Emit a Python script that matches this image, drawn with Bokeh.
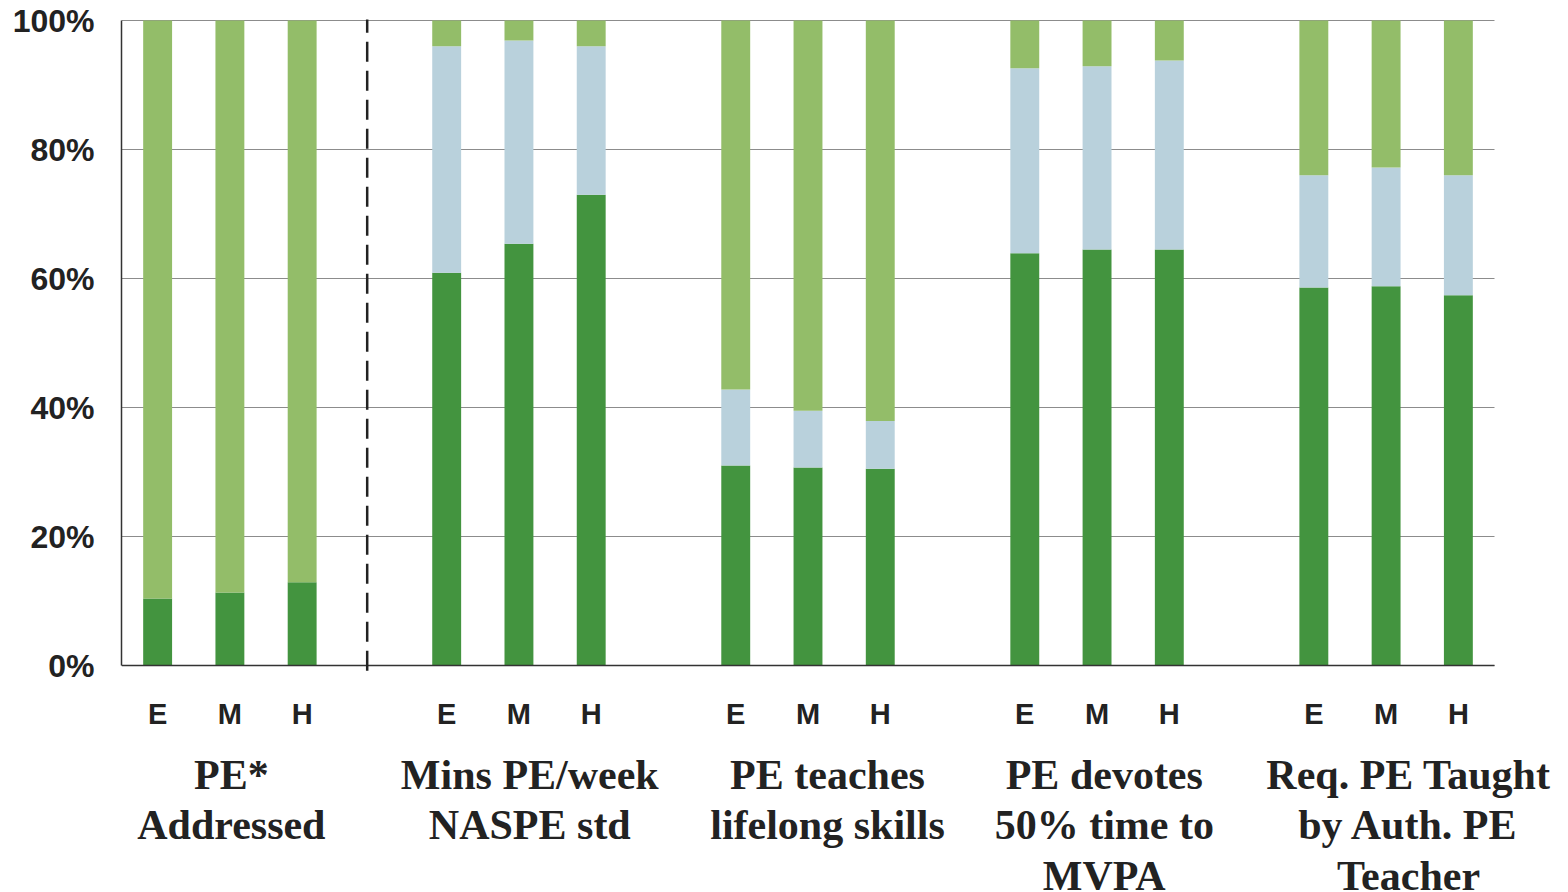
from bokeh.plotting import figure
from bokeh.models import ColumnDataSource, FixedTicker, Range1d
from bokeh.core.properties import value
from bokeh.embed import file_html
from bokeh.resources import INLINE

# ---- data ----
groups = ["PE*\nAddressed", "Mins PE/week\nNASPE std", "PE teaches\nlifelong skills",
          "PE devotes\n50% time to\nMVPA", "Req. PE Taught\nby Auth. PE\nTeacher"]
levels = ["E", "M", "H"]
series = ["Fully", "Partially", "Not"]
fully = [10.4, 11.3, 12.9, 60.9, 65.4, 73.0, 31.0, 30.7, 30.5, 63.9, 64.5, 64.5, 58.6, 58.8, 57.4]
partially = [0.0, 0.0, 0.0, 35.1, 31.5, 23.0, 11.8, 8.8, 7.4, 28.7, 28.4, 29.3, 17.4, 18.4, 18.6]
not_met = [89.6, 88.7, 87.1, 4.0, 3.1, 4.0, 57.2, 60.5, 62.1, 7.4, 7.1, 6.2, 24.0, 22.8, 24.0]
y_ticks = [0, 20, 40, 60, 80, 100]
y_tick_labels = ["0%", "20%", "40%", "60%", "80%", "100%"]

colors = ["#43943f", "#b9d1dc", "#93bd69"]
INK = "#222222"

# ---- layout constants (pixels) ----
W, H = 1560, 890
LEFT, TOP = 121, 19
PLOT_W, PLOT_H = 1373, 645          # width of the 19 category slots, height of 0..100%
N_SLOTS = 19
px_x = PLOT_W / N_SLOTS
px_y = PLOT_H / 100.0
y_end = 100 + 1 / px_y
y_start = y_end - (H - TOP) / px_y
x_end = (W - LEFT) / px_x

xs, labels = [], []
for g in range(len(groups)):
    for i, lv in enumerate(levels):
        xs.append(g * 4 + i + 0.5)
        labels.append(lv)

src = ColumnDataSource(dict(x=xs, Fully=fully, Partially=partially, Not=not_met))

p = figure(width=W, height=H, output_backend="svg", toolbar_location=None,
           x_range=Range1d(0, x_end), y_range=Range1d(y_start, y_end),
           min_border_left=LEFT, min_border_top=TOP, min_border_right=0,
           min_border_bottom=0)
p.outline_line_color = None
p.background_fill_color = "white"
p.border_fill_color = "white"
p.xaxis.visible = False

# grid (limited to the category area)
p.xgrid.visible = False
p.ygrid.ticker = FixedTicker(ticks=y_ticks)
p.ygrid.grid_line_color = "#8c8c8c"
p.ygrid.grid_line_width = 1
p.ygrid.cross_bounds = (0, N_SLOTS)

p.vbar_stack(series, x="x", width=0.4, source=src, color=colors, line_color=None)

# y axis
p.yaxis.bounds = (0, 100)
p.yaxis.ticker = FixedTicker(ticks=y_ticks)
p.yaxis.major_label_overrides = {t: l for t, l in zip(y_ticks, y_tick_labels)}
p.yaxis.major_label_text_font = "Liberation Sans"
p.yaxis.major_label_text_font_style = "bold"
p.yaxis.major_label_text_font_size = "32px"
p.yaxis.major_label_text_color = INK
p.yaxis.major_tick_line_color = None
p.yaxis.minor_tick_line_color = None
p.yaxis.major_tick_out = 0
p.yaxis.major_tick_in = 0
p.yaxis.major_label_standoff = 27
p.yaxis.axis_line_color = "#333333"
p.yaxis.axis_line_width = 1.5

# baseline (x axis line)
p.segment(x0=[0], y0=[0], x1=[N_SLOTS], y1=[0], line_color="#333333", line_width=1.5)

# dashed separator between first group and the rest
p.segment(x0=[3.4], y0=[-0.8], x1=[3.4], y1=[100.5], line_color=INK,
          line_width=2.5, line_dash="20 9")

# E / M / H labels
lsrc = ColumnDataSource(dict(x=xs, y=[0] * len(xs), text=labels))
p.text(x="x", y="y", text="text", source=lsrc, y_offset=48,
       text_font=value("Liberation Sans"), text_font_style="bold",
       text_font_size="29px", text_color=INK, text_align="center",
       text_baseline="middle")

# group labels
shift = [0.02, 0.15, 0.27, 0.10, 0.31]
gsrc = ColumnDataSource(dict(x=[g * 4 + 1.5 + s for g, s in enumerate(shift)],
                             y=[0] * len(groups), text=groups))
p.text(x="x", y="y", text="text", source=gsrc, y_offset=86,
       text_font=value("Liberation Serif"), text_font_style="bold",
       text_font_size="42px", text_color=INK, text_align="center",
       text_baseline="top", text_line_height=1.1)

open("out.html", "w").write(file_html(p, INLINE))
